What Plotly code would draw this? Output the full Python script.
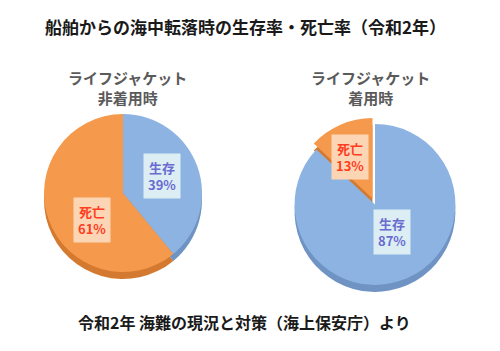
import plotly.graph_objects as go

title = "船舶からの海中転落時の生存率・死亡率（令和2年）"
source = "令和2年 海難の現況と対策（海上保安庁）より"
labels = ["生存", "死亡"]
left_title = "ライフジャケット<br>非着用時"
right_title = "ライフジャケット<br>着用時"
left_values = [39, 61]
right_values = [87, 13]

blue = "#8DB3E2"
orange = "#F59A4C"
blue_side = "#6F93C2"
orange_side = "#D47A30"
blue_txt = "#6B6BD0"
orange_txt = "#FF3D1F"
blue_bg = "#DCEEF4"
orange_bg = "#FCD5B5"

font = "Noto Sans CJK JP"

left_dom = dict(x=[0.086, 0.406], y=[0.225, 0.675])
right_dom = dict(x=[0.57, 0.93], y=[0.17, 0.665])
side = 7 / 351

def pie(values, dom, colors, pull, dy=0.0):
    fig.add_trace(go.Pie(
        labels=labels, values=values, sort=False, direction="clockwise",
        rotation=0, textinfo="none", hoverinfo="label+percent", pull=pull,
        marker=dict(colors=colors, line=dict(color="#ffffff", width=0)),
        domain=dict(x=dom["x"], y=[dom["y"][0] - dy, dom["y"][1] - dy]),
        showlegend=False,
    ))

fig = go.Figure()
pie(left_values, left_dom, [blue_side, orange_side], [0, 0], side)
pie(left_values, left_dom, [blue, orange], [0, 0])
pie(right_values, right_dom, [blue_side, orange_side], [0, 0.08], side)
pie(right_values, right_dom, [blue, orange], [0, 0.08])

def box(x, y, lab, val, txt, bg):
    fig.add_annotation(
        x=x / 500, y=1 - y / 351, xref="paper", yref="paper",
        xanchor="center", yanchor="middle",
        text=f"<b>{lab}<br>{val}%</b>", showarrow=False,
        font=dict(family=font, size=13, color=txt),
        bgcolor=bg, borderpad=4, align="center",
    )

box(162, 176, labels[0], left_values[0], blue_txt, blue_bg)
box(92, 220, labels[1], left_values[1], orange_txt, orange_bg)
box(392, 232, labels[0], right_values[0], blue_txt, blue_bg)
box(350, 157, labels[1], right_values[1], orange_txt, orange_bg)

def txt(x, y, s, size, color):
    fig.add_annotation(x=x / 500, y=1 - y / 351, xref="paper", yref="paper",
                       xanchor="center", yanchor="middle",
                       text=f"<b>{s}</b>", showarrow=False, align="center",
                       font=dict(family=font, size=size, color=color))

txt(245, 26, title, 17, "#1a1a1a")
txt(127, 87, left_title, 15, "#5a5a5a")
txt(370, 87, right_title, 15, "#5a5a5a")
txt(244, 322, source, 16, "#1a1a1a")

fig.update_layout(width=500, height=351, margin=dict(l=0, r=0, t=0, b=0),
                  paper_bgcolor="white", plot_bgcolor="white")
fig.write_html("out.html")
